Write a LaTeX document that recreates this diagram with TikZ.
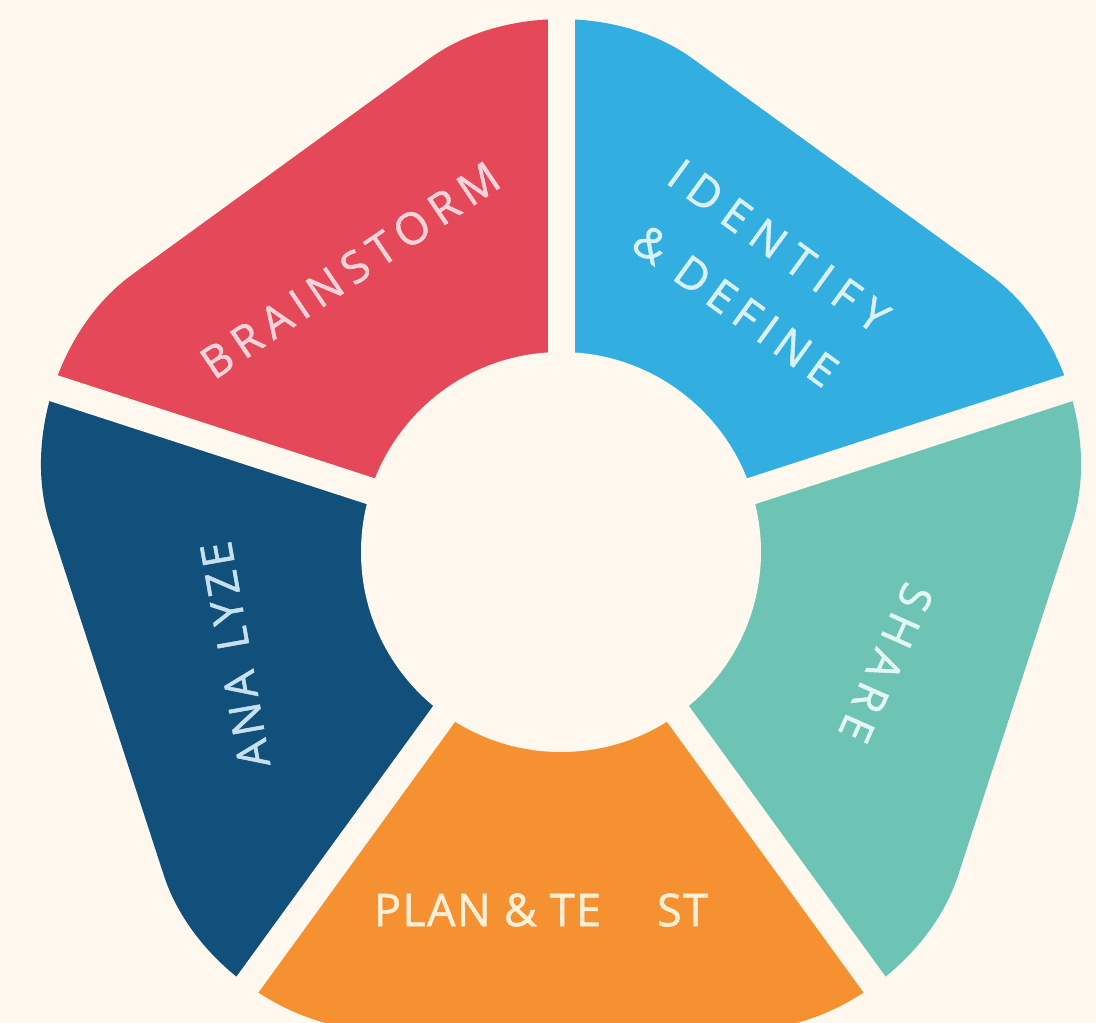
\documentclass[tikz,border=0pt]{standalone}
\usepackage{fontspec}
\setmainfont{Open Sans}
\newfontfamily\lblWide[LetterSpace=24,FakeBold=1.2]{Open Sans}
\newfontfamily\lblMid[LetterSpace=18,FakeBold=1.2]{Open Sans}
\newfontfamily\lblNarrow[LetterSpace=10,FakeBold=1.2]{Open Sans}
\newfontfamily\lblPlain[LetterSpace=3,FakeBold=1.2]{Open Sans}
\usetikzlibrary{calc}
\definecolor{bg}{HTML}{FEF8EF}
\definecolor{cred}{HTML}{E54858}
\definecolor{cblue}{HTML}{33AEE0}
\definecolor{cteal}{HTML}{6EC4B4}
\definecolor{corange}{HTML}{F59130}
\definecolor{cnavy}{HTML}{10507A}
\definecolor{tred}{HTML}{FBD3DA}
\definecolor{tblue}{HTML}{D8F1FB}
\definecolor{tteal}{HTML}{E4F6F1}
\definecolor{torange}{HTML}{FFF0D8}
\definecolor{tnavy}{HTML}{C6E0F0}
\tikzset{
  gap/.style={bg, line width=27pt},
  lbl/.style={inner sep=0pt, anchor=center},
}
\begin{document}
\begin{tikzpicture}[x=1pt,y=-1pt]
\fill[bg] (0,0) rectangle (1096,1023);
\useasboundingbox (0,0) rectangle (1096,1023);
\coordinate (C) at (561,553);
\coordinate (T) at (561,-37);
\coordinate (R) at (1122.1,370.7);
\coordinate (L) at (-0.1,370.7);
\coordinate (BR) at (907.8,1030.3);
\coordinate (BL) at (214.2,1030.3);
\coordinate (B) at (561,1030.3);
\begin{scope}
  \clip[rounded corners=163pt] (B) -- (BR) -- (R) -- (T) -- (L) -- (BL) -- cycle;
  \fill[cred]    (C) -- ($(C)!2!(L)$)  -- ($(C)!2!(T)$)  -- cycle;
  \fill[cblue]   (C) -- ($(C)!2!(T)$)  -- ($(C)!2!(R)$)  -- cycle;
  \fill[cteal]   (C) -- ($(C)!2!(R)$)  -- ($(C)!2!(BR)$) -- cycle;
  \fill[corange] (C) -- ($(C)!2!(BR)$) -- ($(C)!2!(BL)$) -- cycle;
  \fill[cnavy]   (C) -- ($(C)!2!(BL)$) -- ($(C)!2!(L)$)  -- cycle;
\end{scope}
\draw[gap] (C) -- ($(C)!1.5!(T)$);
\draw[gap] (C) -- ($(C)!1.5!(R)$);
\draw[gap] (C) -- ($(C)!1.5!(L)$);
\draw[gap] (C) -- ($(C)!1.5!(BR)$);
\draw[gap] (C) -- ($(C)!1.5!(BL)$);
\fill[bg] (561,552) circle[radius=200pt];

\node[lbl, text=tred, rotate=34, font=\fontsize{44}{48}\selectfont\lblMid] (brain) at (350,270) {BRAINSTORM};
\node[lbl, text=tblue, rotate=-36, align=center, font=\fontsize{44}{76}\selectfont\lblWide] (ident) at (757,276) {IDENTIFY\\[-2pt]{\lblMid\& DEFINE}\hspace{14pt}};
\node[lbl, text=tteal, rotate=-114, font=\fontsize{44}{48}\selectfont\lblMid] (share) at (886,663) {SHARE};
\node[lbl, text=tnavy, rotate=100, font=\fontsize{44}{48}\selectfont\lblNarrow] (anlz) at (235,655) {ANA\hspace{6pt} LYZE};
\node[lbl, text=torange, font=\fontsize{45}{48}\selectfont\lblPlain] (plan) at (541,910) {PLAN \& TE\hspace{56pt}ST};
\end{tikzpicture}
\end{document}
